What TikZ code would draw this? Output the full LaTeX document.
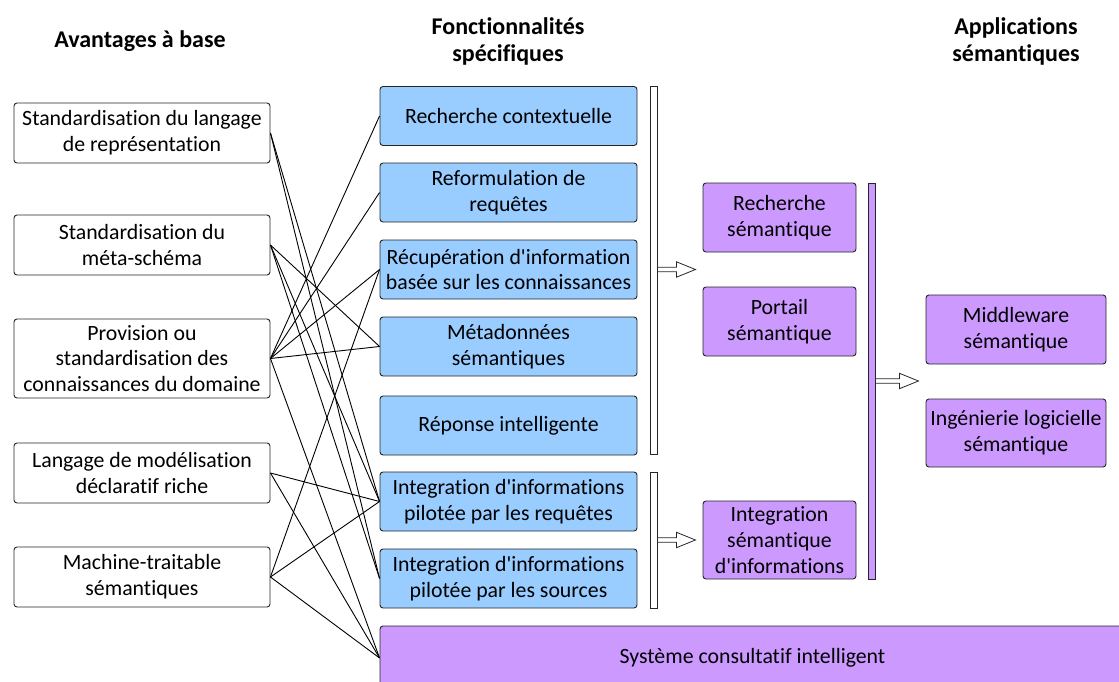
\documentclass[tikz,border=0pt]{standalone}
\usepackage{fontspec}
\setmainfont{Carlito}[Ligatures={TeXOff,NoCommon}]
\definecolor{fblue}{RGB}{153,204,255}
\definecolor{fpurple}{RGB}{204,153,255}
\begin{document}
\begin{tikzpicture}[x=1pt,y=-1pt,
  every node/.style={font=\fontsize{21.8}{25.8}\selectfont, align=center, inner sep=0pt},
  base/.style={draw=black!85, line width=0.9pt, rounded corners=3pt},
  two/.style={execute at begin node={\rule{0pt}{24pt}}},
  leftbox/.style={base, fill=white, minimum width=256pt, minimum height=60pt},
  bluebox/.style={base, fill=fblue, minimum width=257pt, minimum height=59pt},
  midbox/.style={base, fill=fpurple, minimum width=153pt, minimum height=69pt},
  rightbox/.style={base, fill=fpurple, minimum width=180pt, minimum height=69pt},
  bar/.style={draw=black!85, line width=0.9pt, minimum width=7pt},
  head/.style={font=\bfseries\fontsize{24}{27}\selectfont},
  link/.style={draw=black, line width=0.9pt},
  hollow/.style={draw=black!85, line width=0.8pt, fill=white}
]
\useasboundingbox (0,0) rectangle (1119,682);

% headings
\node[head] (h1) at (140,41) {Avantages à base};
\node[head] (h2) at (508,41) {Fonctionnalités\\spécifiques};
\node[head] (h3) at (1016,41) {Applications\\sémantiques};

% left column
\node[leftbox, two] (L1) at (142,133) {Standardisation du langage\\de représentation};
\node[leftbox, two] (L2) at (142,245) {Standardisation du\\méta-schéma};
\node[leftbox, minimum height=79pt] (L3) at (142,358.5) {Provision ou\\standardisation des\\connaissances du domaine};
\node[leftbox, two] (L4) at (142,473) {Langage de modélisation\\déclaratif riche};
\node[leftbox, two] (L5) at (142,577) {Machine-traitable\\sémantiques};

% blue column
\node[bluebox] (B1) at (508.5,116) {Recherche contextuelle};
\node[bluebox, two] (B2) at (508.5,192.5) {Reformulation de\\requêtes};
\node[bluebox, two] (B3) at (508.5,269.5) {Récupération d'information\\basée sur les connaissances};
\node[bluebox, two] (B4) at (508.5,346.5) {Métadonnées\\sémantiques};
\node[bluebox] (B5) at (508.5,425.5) {Réponse intelligente};
\node[bluebox, two] (B6) at (508.5,501.5) {Integration d'informations\\pilotée par les requêtes};
\node[bluebox, two] (B7) at (508.5,578.5) {Integration d'informations\\pilotée par les sources};

% bottom wide box
\node[base, fill=fpurple, minimum width=745pt, minimum height=64pt] (S) at (752.5,658) {Système consultatif intelligent};

% bars
\node[bar, fill=white, minimum height=368pt] (bar1) at (653.5,270) {};
\node[bar, fill=white, minimum height=136pt] (bar2) at (653.5,540) {};
\node[bar, fill=fpurple, minimum height=396pt] (bar3) at (871.5,381) {};

% middle purple
\node[midbox, two] (P1) at (779.5,217.5) {Recherche\\sémantique};
\node[midbox, two] (P2) at (779.5,321.5) {Portail\\sémantique};
\node[midbox, minimum height=78pt] (P3) at (779.5,540) {Integration\\sémantique\\d'informations};

% right purple
\node[rightbox, two] (R1) at (1016,329.5) {Middleware\\sémantique};
\node[rightbox, two, minimum height=68pt] (R2) at (1016,433) {Ingénierie logicielle\\sémantique};

% links
\foreach \a/\b in {L1/B6, L1/B7, L2/B4, L2/B6, L2/B7, L3/B1, L3/B2, L3/B3, L3/B4, L3/S, L4/B6, L4/S, L5/B3, L5/B6, L5/S}
  \draw[link] (\a.east) -- (\b.west);

% hollow arrows
\coordinate (a1) at (bar1.east |- B3.west);
\coordinate (a2) at (bar2.east |- P3.west);
\coordinate (a3) at (bar3.east);
\foreach \c/\l in {a1/19, a2/19, a3/24}
  \draw[hollow] (\c) ++(0,-2.2) -- ++(\l,0) -- ++(0,-5.5) -- ++(19,7.7) -- ++(-19,7.7) -- ++(0,-5.5) -- ++(-\l,0) -- cycle;
\end{tikzpicture}
\end{document}
